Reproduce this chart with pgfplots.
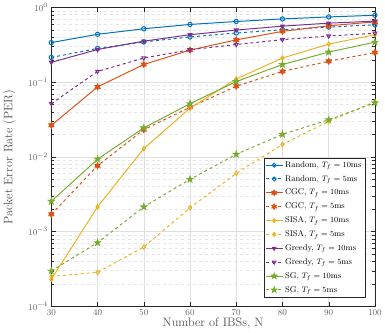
\documentclass[border=0pt]{standalone}
\usepackage{pgfplots}
\pgfplotsset{compat=1.18}
\definecolor{c1}{rgb}{0,0.447,0.741}
\definecolor{c2}{rgb}{0.85,0.325,0.098}
\definecolor{c3}{rgb}{0.929,0.694,0.125}
\definecolor{c4}{rgb}{0.494,0.184,0.556}
\definecolor{c5}{rgb}{0.466,0.674,0.188}
\definecolor{axc}{rgb}{0.15,0.15,0.15}
\pgfdeclareplotmark{pentagram}{%
  \pgfpathmoveto{\pgfpointpolar{90}{1.4\pgfplotmarksize}}%
  \pgfpathlineto{\pgfpointpolar{126}{0.54\pgfplotmarksize}}%
  \pgfpathlineto{\pgfpointpolar{162}{1.4\pgfplotmarksize}}%
  \pgfpathlineto{\pgfpointpolar{198}{0.54\pgfplotmarksize}}%
  \pgfpathlineto{\pgfpointpolar{234}{1.4\pgfplotmarksize}}%
  \pgfpathlineto{\pgfpointpolar{270}{0.54\pgfplotmarksize}}%
  \pgfpathlineto{\pgfpointpolar{306}{1.4\pgfplotmarksize}}%
  \pgfpathlineto{\pgfpointpolar{342}{0.54\pgfplotmarksize}}%
  \pgfpathlineto{\pgfpointpolar{18}{1.4\pgfplotmarksize}}%
  \pgfpathlineto{\pgfpointpolar{54}{0.54\pgfplotmarksize}}%
  \pgfpathclose\pgfusepathqfillstroke}
\pgfdeclareplotmark{hexagram}{%
  \pgfpathmoveto{\pgfpointpolar{90}{1.3\pgfplotmarksize}}%
  \pgfpathlineto{\pgfpointpolar{120}{0.75\pgfplotmarksize}}%
  \pgfpathlineto{\pgfpointpolar{150}{1.3\pgfplotmarksize}}%
  \pgfpathlineto{\pgfpointpolar{180}{0.75\pgfplotmarksize}}%
  \pgfpathlineto{\pgfpointpolar{210}{1.3\pgfplotmarksize}}%
  \pgfpathlineto{\pgfpointpolar{240}{0.75\pgfplotmarksize}}%
  \pgfpathlineto{\pgfpointpolar{270}{1.3\pgfplotmarksize}}%
  \pgfpathlineto{\pgfpointpolar{300}{0.75\pgfplotmarksize}}%
  \pgfpathlineto{\pgfpointpolar{330}{1.3\pgfplotmarksize}}%
  \pgfpathlineto{\pgfpointpolar{0}{0.75\pgfplotmarksize}}%
  \pgfpathlineto{\pgfpointpolar{30}{1.3\pgfplotmarksize}}%
  \pgfpathlineto{\pgfpointpolar{60}{0.75\pgfplotmarksize}}%
  \pgfpathclose\pgfusepathqfillstroke}
\begin{document}
\begin{tikzpicture}
\begin{axis}[
  scale only axis,
  width=328bp, height=303bp,
  xmin=30, xmax=100, ymode=log, ymin=1e-4, ymax=1,
  xtick={30,40,...,100},
  ytick={1e-4,1e-3,1e-2,1e-1,1},
  grid=both,
  major grid style={gray!25, line width=0.4pt},
  minor grid style={gray!20, dashed, line width=0.3pt},
  axis line style={axc, line width=0.6pt},
  tick style={axc},
  tick label style={font=\fontsize{9.5}{11}\selectfont, text=axc!75},
  xlabel={Number of IBSs, N},
  ylabel={Packet Error Rate (PER)},
  label style={text=axc!80, font=\fontsize{12.5}{14}\selectfont},
  xlabel style={yshift=4pt},
  ylabel style={yshift=6pt},
  legend pos=south east,
  legend style={font=\fontsize{8.5}{10}\selectfont, draw=axc, line width=0.6pt, inner sep=1.5pt, row sep=2.6pt, cells={anchor=west}},
  legend cell align=left,
  legend image post style={mark size=2pt},
  every axis plot/.append style={line width=1pt, mark size=2.2pt},
]
\addplot[c1, mark=o] coordinates {(30,0.338)(40,0.436)(50,0.517)(60,0.591)(70,0.647)(80,0.701)(90,0.745)(100,0.784)};
\addlegendentry{Random, $T_f=10$ms}
\addplot[c1, dashed, mark=o, mark options={solid}] coordinates {(30,0.214)(40,0.282)(50,0.345)(60,0.402)(70,0.454)(80,0.502)(90,0.545)(100,0.584)};
\addlegendentry{Random, $T_f=5$ms}
\addplot[c2, mark=hexagram, mark options={fill=c2}] coordinates {(30,0.0264)(40,0.0862)(50,0.172)(60,0.268)(70,0.367)(80,0.478)(90,0.567)(100,0.640)};
\addlegendentry{CGC, $T_f=10$ms}
\addplot[c2, dashed, mark=hexagram, mark options={solid, fill=c2}] coordinates {(30,0.0017)(40,0.0076)(50,0.0231)(60,0.046)(70,0.088)(80,0.139)(90,0.19)(100,0.249)};
\addlegendentry{CGC, $T_f=5$ms}
\addplot[c3, mark=diamond] coordinates {(30,0.00023)(40,0.00214)(50,0.0129)(60,0.0447)(70,0.11)(80,0.21)(90,0.322)(100,0.431)};
\addlegendentry{SISA, $T_f=10$ms}
\addplot[c3, dashed, mark=diamond, mark options={solid}] coordinates {(30,0.00025)(40,0.000285)(50,0.00062)(60,0.00208)(70,0.0060)(80,0.0147)(90,0.0298)(100,0.0547)};
\addlegendentry{SISA, $T_f=5$ms}
\addplot[c4, mark=triangle*, mark options={rotate=180, fill=c4}] coordinates {(30,0.184)(40,0.273)(50,0.353)(60,0.431)(70,0.497)(80,0.561)(90,0.615)(100,0.654)};
\addlegendentry{Greedy, $T_f=10$ms}
\addplot[c4, dashed, mark=triangle, mark options={solid, rotate=180}] coordinates {(30,0.0514)(40,0.139)(50,0.210)(60,0.271)(70,0.318)(80,0.370)(90,0.414)(100,0.450)};
\addlegendentry{Greedy, $T_f=5$ms}
\addplot[c5, mark=pentagram, mark options={fill=c5}] coordinates {(30,0.00254)(40,0.0093)(50,0.0244)(60,0.0514)(70,0.1016)(80,0.172)(90,0.252)(100,0.342)};
\addlegendentry{SG, $T_f=10$ms}
\addplot[c5, dashed, mark=pentagram, mark options={solid, fill=c5}] coordinates {(30,0.000297)(40,0.00071)(50,0.00214)(60,0.0050)(70,0.0108)(80,0.020)(90,0.0313)(100,0.053)};
\addlegendentry{SG, $T_f=5$ms}
\end{axis}
\end{tikzpicture}
\end{document}
